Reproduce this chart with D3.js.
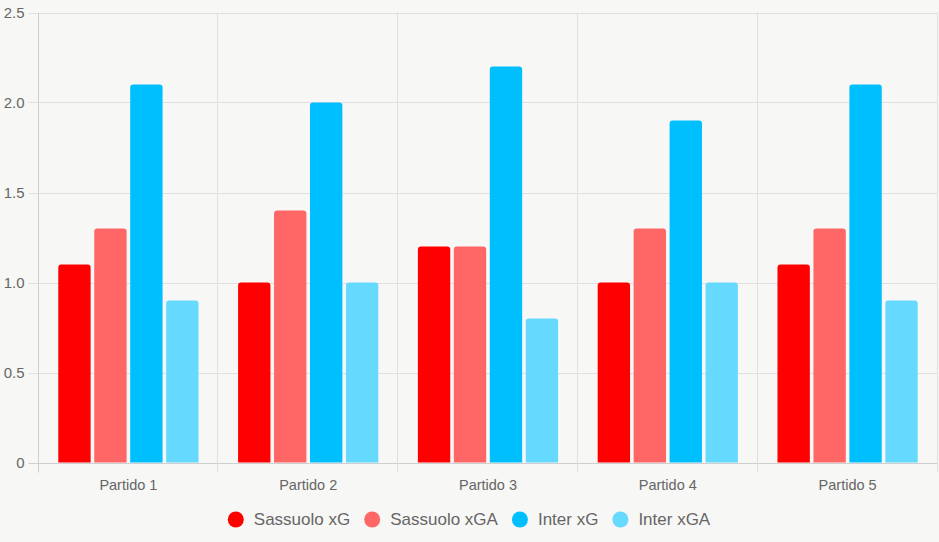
<!DOCTYPE html>
<html><head><meta charset="utf-8">
<script src="https://cdn.jsdelivr.net/npm/d3@7"></script>
<style>
html,body{margin:0;padding:0;background:#f7f7f5;}
svg{display:block;font-family:"Liberation Sans",Arial,Helvetica,sans-serif;}
</style></head>
<body>
<svg id="c" width="939" height="542"></svg>
<script>
const categories = ["Partido 1","Partido 2","Partido 3","Partido 4","Partido 5"];
const seriesNames = ["Sassuolo xG","Sassuolo xGA","Inter xG","Inter xGA"];
const sassuoloXG  = [1.1, 1.0, 1.2, 1.0, 1.1];
const sassuoloXGA = [1.3, 1.4, 1.2, 1.3, 1.3];
const interXG     = [2.1, 2.0, 2.2, 1.9, 2.1];
const interXGA    = [0.9, 1.0, 0.8, 1.0, 0.9];
const yTicks = [0, 0.5, 1.0, 1.5, 2.0, 2.5];
const yTickLabels = ["0","0.5","1.0","1.5","2.0","2.5"];
const colors = ["#ff0000","#ff6666","#00bfff","#66d9ff"];

const series = [sassuoloXG, sassuoloXGA, interXG, interXGA];
const svg = d3.select("#c");
const L = 38.5, R = 937.5, T = 12.5, B = 462.5;

const x = d3.scaleBand().domain(categories).range([L, R]).paddingInner(0).paddingOuter(0);
const y = d3.scaleLinear().domain([0, 2.5]).range([B, T]);

// grid horizontal
svg.append("g").selectAll("line").data(yTicks).join("line")
  .attr("x1", L - 10).attr("x2", R)
  .attr("y1", d => Math.round(y(d)) + 0.5).attr("y2", d => Math.round(y(d)) + 0.5)
  .attr("stroke", d => d === 0 ? "#cfcfcf" : "#e0e0e0").attr("stroke-width", 1);
// grid vertical
const vx = categories.map(c => x(c)).concat([R]);
svg.append("g").selectAll("line").data(vx).join("line")
  .attr("x1", d => Math.round(d) - 0.5).attr("x2", d => Math.round(d) - 0.5)
  .attr("y1", T).attr("y2", B + 10)
  .attr("stroke", (d,i) => i === 0 ? "#cfcfcf" : "#e0e0e0").attr("stroke-width", 1);

// y labels
svg.append("g").selectAll("text").data(yTicks).join("text")
  .attr("x", L - 14).attr("y", d => y(d))
  .attr("dy", "0.35em").attr("text-anchor", "end")
  .attr("font-size", 15).attr("fill", "#666")
  .text((d,i) => yTickLabels[i]);

// x labels
svg.append("g").selectAll("text").data(categories).join("text")
  .attr("x", d => x(d) + x.bandwidth()/2).attr("y", 490)
  .attr("text-anchor", "middle").attr("font-size", 14.5).attr("fill", "#666")
  .text(d => d);

// bars
const catW = x.bandwidth() * 0.8;
const slot = catW / series.length;
const barW = slot * 0.9;
const r = 3;
function barPath(x0, y0, w, h) {
  const rr = Math.min(r, h, w/2);
  return `M${x0},${y0+h}V${y0+rr}Q${x0},${y0} ${x0+rr},${y0}H${x0+w-rr}Q${x0+w},${y0} ${x0+w},${y0+rr}V${y0+h}Z`;
}
series.forEach((vals, si) => {
  svg.append("g").selectAll("path").data(categories).join("path")
    .attr("d", (c, ci) => {
      const x0 = x(c) + x.bandwidth()*0.1 + slot*si + slot*0.05;
      const y0 = y(vals[ci]);
      return barPath(x0, y0, barW, B - y0);
    })
    .attr("fill", colors[si]);
});

// legend
const lg = svg.append("g");
const fs = 17;
const items = [];
seriesNames.forEach((n, i) => {
  const g = lg.append("g");
  g.append("circle").attr("cx", 0).attr("cy", 0).attr("r", 8).attr("fill", colors[i]);
  const t = g.append("text").attr("x", 18).attr("y", 0).attr("dy", "0.35em")
    .attr("font-size", fs).attr("fill", "#666").text(n);
  items.push({g, w: 18 + t.node().getComputedTextLength()});
});
const gap = 22;
const total = d3.sum(items, d => d.w) + gap * (items.length - 1) + 8;
let cx = 469 - total/2 + 8;
items.forEach(d => { d.g.attr("transform", `translate(${cx},519.5)`); cx += d.w + gap; });
</script>
</body></html>
